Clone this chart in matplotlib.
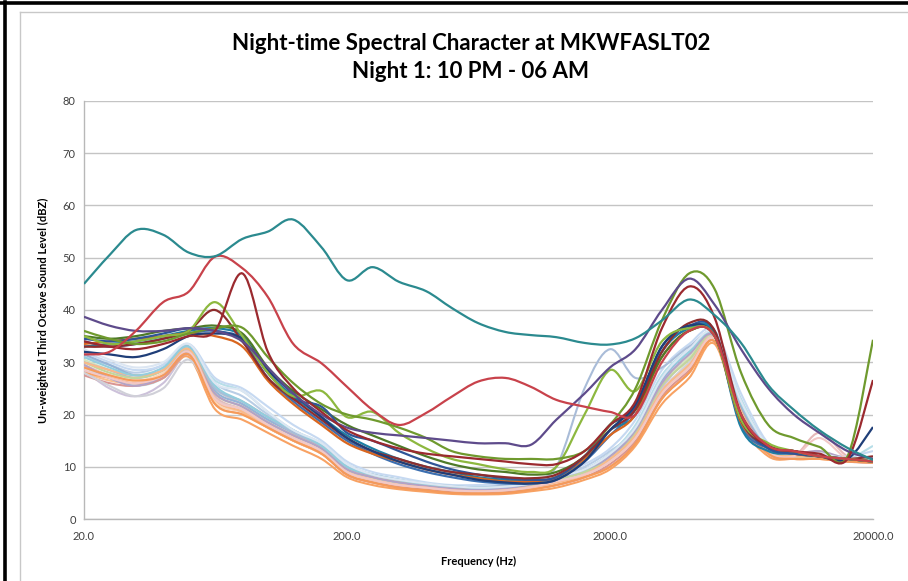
import numpy as np
import matplotlib
matplotlib.use("Agg")
import matplotlib.pyplot as plt
from matplotlib.path import Path
from matplotlib.patches import PathPatch
from matplotlib.lines import Line2D

plt.rcParams['font.family'] = ['Lato', 'DejaVu Sans']

# Third-octave band centre frequencies (Hz)
freqs = [20, 25, 31.5, 40, 50, 63, 80, 100, 125, 160, 200, 250, 315, 400, 500, 630,
         800, 1000, 1250, 1600, 2000, 2500, 3150, 4000, 5000, 6300, 8000, 10000,
         12500, 16000, 20000]

# Quieter intervals (light colours)
p1 = [31, 29.5, 28, 29.5, 33, 26, 23.5, 20, 17, 14, 10, 8.5, 7.5, 6.5, 6, 6.2, 6.3, 6.8, 8, 10, 13, 17, 27, 32, 35.5, 22, 14, 12.5, 12, 11.5, 11.2]
p2 = [28, 26.5, 26, 27.5, 32, 22, 20, 17.5, 15, 12.5, 8.5, 7, 6, 5.5, 5, 5, 5.2, 5.8, 6.5, 8, 10, 14.5, 23, 28, 34, 19, 12.5, 11.5, 11.5, 11, 10.8]
p3 = [28.5, 25, 23.5, 26, 31.5, 25, 22, 19, 16.5, 13.5, 9.5, 8, 7, 6, 5.5, 5.5, 5.7, 6.3, 7.5, 9, 11.5, 16, 25, 31, 35, 22, 13.5, 12, 12, 11.5, 11]
p4 = [29.5, 27.5, 26.5, 27.5, 32.5, 23.5, 21, 18, 15.5, 13, 9, 7.5, 6.5, 6, 5.5, 5.3, 5.5, 6.1, 7, 8.5, 11, 15.5, 24, 29.5, 34.5, 20.5, 13, 12, 16.5, 12, 11]
p5 = [30.5, 28.5, 27, 28.5, 33, 25, 22.5, 19.5, 16.5, 14, 10, 8.5, 7.2, 6.4, 6, 5.8, 6, 6.6, 7.5, 9.5, 12, 17.5, 26, 31, 35, 21.5, 13.5, 12.5, 12.5, 11.8, 11.2]
p6 = [29, 27, 25.5, 27, 32, 26.5, 24.5, 20.5, 17, 14.5, 10.5, 8.5, 7.5, 6.5, 6, 6, 6.2, 6.8, 8, 9.5, 12.5, 18, 27.5, 32.5, 35.5, 23, 14, 12.5, 12, 11.5, 14]
p7 = [28, 27, 26, 27, 31, 21, 19, 16.5, 14, 11.5, 8, 6.5, 5.7, 5.2, 4.8, 4.7, 4.8, 5.3, 6, 7.5, 9.5, 14, 22, 27, 33.5, 18.5, 12, 11.5, 11.5, 11, 10.8]
p8 = [32, 30, 28.5, 29.5, 33.5, 27, 25, 21.5, 18, 15, 11, 9, 8, 7, 6.5, 6.5, 6.7, 7.2, 8.5, 10.5, 13.5, 19, 28.5, 33.5, 36, 24, 14.5, 13, 12.5, 12, 13]
p9 = [27.5, 26, 25.5, 27, 31.5, 22.5, 20.5, 17.5, 15, 12.5, 8.5, 7, 6.2, 5.7, 5.2, 5, 5.2, 5.8, 6.5, 8, 10.5, 15, 23.5, 28.5, 34, 19.5, 12.5, 11.5, 12, 11, 10.8]
p10 = [31.5, 29.5, 27.5, 28.5, 33, 24.5, 22, 19, 16.5, 14, 10, 8, 7, 6.5, 6, 5.9, 6, 6.6, 7.8, 9, 12, 17, 26.5, 32, 35, 21, 13.5, 12, 12, 11.5, 11]
p11 = [28, 25.5, 23.5, 25, 30.5, 23, 21, 18.5, 16, 13.5, 9.5, 8, 7, 6.2, 5.8, 5.6, 5.7, 6.3, 7.5, 9, 11, 16, 24.5, 30, 34.5, 20, 13, 12, 12, 11.5, 11]
p12 = [29, 27.5, 26.5, 28, 32.5, 22.5, 20.5, 17.5, 15, 12.5, 9, 7.5, 6.5, 6, 5.5, 5.3, 5.5, 6, 7, 8.5, 11, 15.5, 24, 29, 34.5, 20, 12.5, 12, 12, 11.2, 11]
p13 = [30, 28.5, 27, 28.5, 32.5, 25, 22.5, 19.5, 16.5, 14, 10, 8.5, 7.5, 6.7, 6.3, 6, 6.5, 7.5, 10, 25, 32.5, 27, 29, 33, 35, 22, 13.5, 12.5, 12, 11.5, 11]
p14 = [30, 28, 27, 28.5, 32.5, 24, 21.5, 18.5, 16, 13.5, 9.5, 8, 7, 6.3, 5.8, 5.6, 5.7, 6.3, 7.5, 9, 11.5, 16.5, 25.5, 30.5, 35, 21, 13.5, 12, 12, 11.5, 11.5]
p15 = [29.5, 27, 25.5, 27.5, 32, 24, 21.5, 18.5, 16, 13.5, 9.5, 8, 7, 6.3, 5.8, 5.6, 5.9, 6.6, 7.8, 9.5, 12, 17, 26, 31.5, 35, 21.5, 13.5, 12.5, 13, 11.5, 11]
p16 = [30, 28.5, 27.5, 28.5, 32.5, 23, 20.5, 17.5, 15, 12.5, 9, 7.5, 6.5, 6, 5.5, 5.3, 5.5, 6.1, 7, 8.5, 11.5, 16, 24.5, 29.5, 34.5, 20.5, 13, 12, 12, 11.2, 11]
p17 = [31, 29, 27.5, 29, 33, 25.5, 22.5, 19.5, 17, 14, 10, 8.5, 7.5, 6.7, 6.3, 6, 6.2, 6.8, 8, 9.5, 12.5, 17.5, 27, 32, 35.5, 22, 14, 12.5, 12, 11.5, 11]
p18 = [28.5, 27, 26, 27.5, 32, 23, 21, 18, 15.5, 13, 9, 7.5, 6.5, 6, 5.5, 5.3, 5.5, 6.1, 7.2, 8.5, 11, 15.5, 24, 29, 34.5, 20, 13, 12, 15.5, 11.5, 11]
p19 = [32.5, 30.5, 29, 30, 33.5, 26, 24.5, 20.5, 17, 14.5, 10.5, 8.5, 7.5, 6.8, 6.3, 6, 6.2, 6.8, 8, 9.5, 12.5, 17.5, 27, 32.5, 35.5, 22.5, 14, 12.5, 12.5, 11.5, 11.2]
p20 = [29, 27.5, 26.5, 27.5, 31.5, 22, 20, 17.5, 15, 12.5, 8.5, 7, 6, 5.5, 5, 4.9, 5, 5.6, 6.5, 8, 10, 14.5, 23, 28, 34, 19.5, 12.5, 11.5, 11.5, 11, 10.8]

# Louder intervals (strong colours)
c_blue = [34, 33, 33.5, 34.5, 35.5, 36, 34, 27, 22.5, 18.5, 15, 12.5, 10.5, 9, 8, 7.2, 6.8, 6.8, 7.5, 11, 16, 21, 32, 36.5, 35.5, 18, 13.5, 12.5, 12, 11.5, 11]
c_teal2 = [33, 33.5, 34, 35, 36, 36.5, 35, 28, 23.5, 19.5, 16, 13.5, 11.5, 10, 9, 8, 7.5, 7.2, 8, 11.5, 17, 20, 32, 36.5, 35.5, 17.5, 13, 12.5, 12, 11.5, 11]
c_orange = [33.5, 34, 34.5, 35, 35.5, 35, 33, 26.5, 22, 18, 14.5, 12.5, 11, 9.5, 8.5, 7.8, 7.2, 7.2, 8, 11.5, 16, 20, 31, 36, 35, 18.5, 14, 12.5, 12, 11.5, 11]
c_dgreen = [35, 34.5, 35, 36, 36.5, 37, 35.5, 29, 24.5, 21, 18, 16, 14, 12, 10.5, 9.5, 9, 8.5, 9, 12, 18, 21, 31, 36, 35, 19, 14, 13, 12, 11.5, 11]
c_blue2 = [34.5, 34, 34.5, 35.5, 36.5, 36, 34.5, 28, 23, 21.5, 16.5, 15, 13, 11, 9.5, 8.5, 7.8, 7.5, 8, 12, 18, 21.5, 33, 37, 36, 19, 13.5, 12.5, 12, 11.5, 11]
c_dred2 = [33, 33, 33.5, 34.5, 36, 40, 34, 27, 23, 19, 15.5, 13, 11.5, 10, 9, 8.5, 8, 7.8, 8.5, 12, 17, 21, 32, 37.5, 36, 19, 14, 13, 12, 11.5, 12]
navy = [32, 31.5, 31, 32.5, 35, 35.5, 34.5, 28.5, 24, 19.5, 15.5, 13, 11, 9.5, 8.5, 7.5, 7, 6.8, 7.5, 11, 17, 22, 33, 37, 35, 20, 14, 13, 12, 11.5, 17.6]
green_light = [35, 33.5, 34, 35, 36, 41.5, 35, 28, 23.5, 24.5, 19.5, 20.5, 16.5, 13.5, 11.5, 10.5, 9.5, 9, 10, 20, 28.5, 24.5, 34, 36.5, 35, 19, 14.5, 13, 12, 11.5, 11]
green_olive = [36, 34.5, 33.5, 34, 35.5, 36.5, 36.6, 31, 26, 22, 20, 19, 17.5, 15.5, 13, 12, 11.5, 11.5, 11.5, 13, 18, 25, 38, 47, 44, 28, 18, 15.5, 13.8, 12, 34.3]
purple = [38.7, 37, 36, 36, 36.5, 36, 34, 29, 24, 20, 17.5, 16.5, 16, 15.5, 15, 14.5, 14.5, 14.2, 19, 24, 29, 32.5, 40, 46, 41, 32.5, 25, 20, 16.5, 13, 11.5]
dark_red = [34, 33, 32.5, 33.5, 35, 36, 47, 32, 25, 20.5, 17, 15, 13.5, 12.5, 12, 11.5, 11, 10.5, 10.5, 13, 18, 22.5, 36.5, 44.5, 38.5, 20, 14, 13, 12.5, 11.5, 26.6]
red = [31.5, 32, 36, 41.5, 43.5, 50.2, 48, 42.5, 33.5, 29.8, 25.3, 20.9, 18, 20.3, 23.4, 26.3, 27, 25.3, 22.8, 21.5, 20.5, 20, 30, 36, 35, 20, 14, 13, 12, 11.5, 11]
teal = [45, 50.5, 55.3, 54.4, 51, 50.3, 53.6, 55, 57.3, 52, 45.7, 48.2, 45.4, 43.6, 40.4, 37.5, 35.8, 35.2, 34.8, 33.7, 33.4, 34.6, 38, 42, 39, 33.7, 25.6, 20.9, 17, 13.6, 11.3]

pale_series = [p1, p2, p3, p4, p5, p6, p7, p8, p9, p10,
               p11, p12, p13, p14, p15, p16, p17, p18, p19, p20]
pale_colors = ['#B9CDE5', '#FAC090', '#CCC1DA', '#E6B9B8', '#D7E4BD',
               '#B7DEE8', '#F8A263', '#C6D9F1', '#D99694', '#95B3D7',
               '#D0D0D8', '#FCD5B5', '#A9BCD8', '#C3D69B', '#B3A2C7',
               '#F9B98A', '#93CDDD', '#F2C8C6', '#DCE6F2', '#F59A5A']

strong_series = [c_blue, c_teal2, c_orange, c_dgreen, c_blue2, c_dred2, navy,
                 green_light, green_olive, purple, dark_red, red, teal]
strong_colors = ['#3C6FB0', '#1E7FA3', '#D9661F', '#4E7A28', '#2F5597', '#8E2D2D',
                 '#1F3E78', '#8DB83F', '#6F9A2E', '#5E4B8B', '#9B2A2F', '#C8424B',
                 '#2B8A8F']


def smooth_curve(x, y):
    """Bezier path through the points (Catmull-Rom style tangents in log-frequency)."""
    lx = np.log10(np.asarray(x, float))
    yy = np.asarray(y, float)
    pts = np.column_stack([lx, yy])
    n = len(pts)
    verts = [pts[0]]
    codes = [Path.MOVETO]
    for i in range(n - 1):
        p0 = pts[max(i - 1, 0)]
        p1 = pts[i]
        p2 = pts[i + 1]
        p3 = pts[min(i + 2, n - 1)]
        c1 = p1 + (p2 - p0) / 6.0
        c2 = p2 - (p3 - p1) / 6.0
        verts += [c1, c2, p2]
        codes += [Path.CURVE4] * 3
    verts = np.array(verts)
    verts[:, 0] = 10 ** verts[:, 0]
    return Path(verts, codes)


W, H = 908, 581
fig = plt.figure(figsize=(W / 100, H / 100), dpi=100)
fig.patch.set_facecolor('white')

ax = fig.add_axes([84 / W, 1 - 519 / H, (873 - 84) / W, (519 - 101) / H])
ax.set_xscale('log')
ax.set_xlim(20, 20000)
ax.set_ylim(0, 80)

for vals, col in zip(pale_series, pale_colors):
    ax.add_patch(PathPatch(smooth_curve(freqs, vals), facecolor='none',
                           edgecolor=col, lw=1.5, zorder=3))
for vals, col in zip(strong_series, strong_colors):
    ax.add_patch(PathPatch(smooth_curve(freqs, vals), facecolor='none',
                           edgecolor=col, lw=1.6, zorder=4))

ax.set_yticks(range(0, 81, 10))
ax.set_xticks([20, 200, 2000, 20000])
ax.set_xticklabels(['20.0', '200.0', '2000.0', '20000.0'])
ax.xaxis.set_minor_locator(matplotlib.ticker.NullLocator())
ax.tick_params(axis='both', length=0, labelsize=8, colors='#404040', pad=6)
ax.tick_params(axis='x', pad=9)
ax.yaxis.grid(True, color='#C4C4C4', lw=1.0)
ax.set_axisbelow(True)
for s in ['top', 'right']:
    ax.spines[s].set_visible(False)
for s in ['left', 'bottom']:
    ax.spines[s].set_color('#B8B8B8')
    ax.spines[s].set_linewidth(1.0)

ax.set_xlabel('Frequency (Hz)', fontsize=8, fontweight='bold', labelpad=10)
ax.set_ylabel('Un-weighted Third Octave Sound Level (dBZ)', fontsize=8,
              fontweight='bold', labelpad=10)

fig.text(471 / W, 1 - 43 / H, 'Night-time Spectral Character at MKWFASLT02',
         ha='center', va='center', fontsize=16, fontweight='bold')
fig.text(471 / W, 1 - 72 / H, 'Night 1: 10 PM - 06 AM',
         ha='center', va='center', fontsize=16, fontweight='bold')

# chart area border
fig.add_artist(Line2D([20 / W, 20 / W], [0, 1 - 12 / H], transform=fig.transFigure,
                      color='#C8C8C8', lw=1.0))
fig.add_artist(Line2D([20 / W, 1], [1 - 12 / H, 1 - 12 / H], transform=fig.transFigure,
                      color='#C8C8C8', lw=1.0))
# outer frame
fig.add_artist(Line2D([0, 1], [1 - 3 / H, 1 - 3 / H], transform=fig.transFigure,
                      color='black', lw=2.6))
fig.add_artist(Line2D([5 / W, 5 / W], [0, 1 - 2 / H], transform=fig.transFigure,
                      color='black', lw=2.6))

fig.savefig('out.png', dpi=100)
